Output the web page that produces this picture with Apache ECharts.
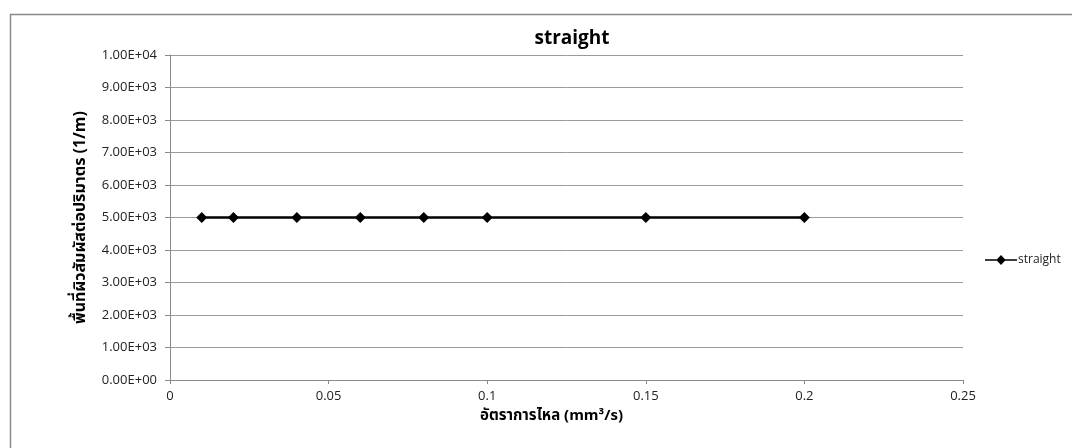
<!DOCTYPE html>
<html>
<head>
<meta charset="utf-8">
<script src="https://cdn.jsdelivr.net/npm/echarts@6/dist/echarts.min.js"></script>
<style>
  html, body { margin: 0; padding: 0; background: #fff; }
  #chart { width: 1072px; height: 448px; }
</style>
</head>
<body>
<div id="chart"></div>
<script>
// Flow rate (mm3/s) against specific surface area (1/m), straight channel
const flowRates = [0.01, 0.02, 0.04, 0.06, 0.08, 0.1, 0.15, 0.2];
const surfaceArea = [5000, 5000, 5000, 5000, 5000, 5000, 5000, 5000];
const seriesName = 'straight';
const titleText = 'straight';
const xAxisTitle = 'อัตราการไหล (mm³/s)';
const yAxisTitle = 'พื้นที่ผิวสัมผัสต่อปริมาตร (1/m)';

const FONT = '"Open Sans", "Noto Sans", "Noto Sans Thai", "DejaVu Sans", sans-serif';

const chart = echarts.init(document.getElementById('chart'), null, { renderer: 'canvas' });

function sci(v) {
  if (v === 0) return '0.00E+00';
  const e = Math.floor(Math.log10(Math.abs(v)));
  const m = v / Math.pow(10, e);
  return m.toFixed(2) + 'E+' + String(e).padStart(2, '0');
}

chart.setOption({
  animation: false,
  backgroundColor: '#ffffff',
  textStyle: { fontFamily: FONT },
  title: {
    text: titleText,
    left: 567,
    textAlign: 'center',
    top: 24,
    textStyle: { fontFamily: FONT, fontSize: 19, fontWeight: 'bold', color: '#000' }
  },
  graphic: [
    {
      // chart area frame
      type: 'rect',
      shape: { x: 10.5, y: 14.5, width: 1090, height: 460 },
      style: { fill: null, stroke: '#8a8a8a', lineWidth: 1.5 },
      silent: true
    }
  ],
  legend: {
    data: [{
      name: seriesName,
      icon: 'path://M0,4.2 L12,4.2 L16,0 L20,4.2 L32,4.2 L32,5.8 L20,5.8 L16,10 L12,5.8 L0,5.8 Z'
    }],
    left: 980,
    top: 249,
    itemWidth: 32,
    itemHeight: 10,
    itemGap: 0,
    textStyle: { fontFamily: FONT, fontSize: 12, color: '#222', padding: [0, 0, 0, -4] }
  },
  grid: { left: 170, right: 109, top: 55, bottom: 68, containLabel: false },
  xAxis: {
    type: 'value',
    min: 0,
    max: 0.25,
    interval: 0.05,
    name: xAxisTitle,
    nameLocation: 'middle',
    nameGap: 26,
    nameTextStyle: {
      fontFamily: FONT, fontSize: 15, fontWeight: 'bold', color: '#000',
      padding: [0, 30, 0, 0]
    },
    axisLine: { show: true, lineStyle: { color: '#8a8a8a', width: 1 } },
    axisTick: { show: true, length: 4, inside: false, lineStyle: { color: '#8a8a8a' } },
    axisLabel: {
      fontFamily: FONT, fontSize: 13, color: '#222', margin: 10,
      formatter: v => String(parseFloat(v.toFixed(2)))
    },
    splitLine: { show: false }
  },
  yAxis: {
    type: 'value',
    min: 0,
    max: 10000,
    interval: 1000,
    name: yAxisTitle,
    nameLocation: 'middle',
    nameGap: 82,
    nameRotate: 90,
    nameTextStyle: { fontFamily: FONT, fontSize: 16, fontWeight: 'bold', color: '#000' },
    axisLine: { show: true, lineStyle: { color: '#8a8a8a', width: 1 } },
    axisTick: { show: true, length: 5, lineStyle: { color: '#8a8a8a' } },
    axisLabel: { fontFamily: FONT, fontSize: 13, color: '#222', margin: 13, formatter: sci },
    splitLine: { show: true, lineStyle: { color: '#9a9a9a', width: 1 } }
  },
  series: [
    {
      name: seriesName,
      type: 'line',
      data: flowRates.map((x, i) => [x, surfaceArea[i]]),
      symbol: 'diamond',
      symbolSize: 11,
      showAllSymbol: true,
      lineStyle: { color: '#000', width: 2.5 },
      itemStyle: { color: '#000' },
      z: 3
    }
  ]
});
</script>
</body>
</html>
